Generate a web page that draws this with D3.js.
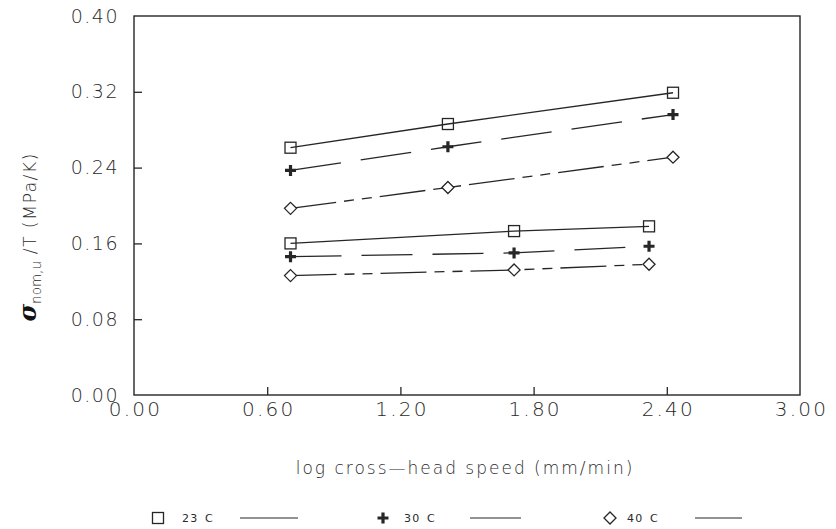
<!DOCTYPE html>
<html><head><meta charset="utf-8">
<script src="https://cdn.jsdelivr.net/npm/d3@7"></script>
<style>
html,body{margin:0;padding:0;background:#fff;}
svg text{font-family:"DejaVu Sans","Open Sans",sans-serif;fill:#2a2a2a;}
</style></head>
<body>
<svg id="c" width="836" height="529"></svg>
<script>
// ---- data ----
const xTicks = [0.00, 0.60, 1.20, 1.80, 2.40, 3.00];
const yTicks = [0.00, 0.08, 0.16, 0.24, 0.32, 0.40];
const xUpper = [0.705, 1.414, 2.428];
const xLower = [0.705, 1.712, 2.320];
const upper23 = [0.261, 0.286, 0.319];
const upper30 = [0.237, 0.262, 0.296];
const upper40 = [0.197, 0.219, 0.251];
const lower23 = [0.160, 0.173, 0.178];
const lower30 = [0.146, 0.150, 0.157];
const lower40 = [0.126, 0.132, 0.138];
const legendLabels = ["23 C", "30 C", "40 C"];

const svg = d3.select("#c");
const L = 134, R = 800, T = 16, B = 395;
const x = d3.scaleLinear().domain([0, 3]).range([L, R]);
const y = d3.scaleLinear().domain([0, 0.4]).range([B, T]);
const ink = "#262626";

// frame
svg.append("rect").attr("x", L).attr("y", T).attr("width", R - L).attr("height", B - T)
  .attr("fill", "none").attr("stroke", ink).attr("stroke-width", 1.4);

// axes
const fmt = d3.format(".2f");
const gy = svg.append("g").attr("transform", `translate(${L},0)`)
  .call(d3.axisLeft(y).tickValues(yTicks).tickFormat(fmt).tickSize(-8).tickPadding(15));
const gx = svg.append("g").attr("transform", `translate(0,${B})`)
  .call(d3.axisBottom(x).tickValues(xTicks).tickFormat(fmt).tickSize(-8).tickPadding(7));
[gy, gx].forEach((g, k) => {
  g.select(".domain").remove();
  g.selectAll(".tick line").attr("stroke", ink).attr("stroke-width", 1.3)
    .filter(d => d === 0 || d === 0.4 || d === 3).remove();
  g.selectAll(".tick text").attr("font-size", k === 0 ? 19 : 20).attr("fill", "#1e1e1e")
    .attr("font-family", "'DejaVu Sans', sans-serif").attr("font-weight", 200)
    .style("letter-spacing", k === 0 ? "1.5px" : "2.2px")
    .attr("dx", k === 0 ? 0 : 1);
});

// axis titles
svg.append("text").attr("x", 465).attr("y", 474).attr("text-anchor", "middle")
  .attr("font-size", 17).attr("font-weight", 200).attr("fill", "#1e1e1e")
  .style("letter-spacing", "2px").text("log cross\u2014head speed (mm/min)");

const yt = svg.append("text").attr("transform", "translate(36,237) rotate(-90)")
  .attr("text-anchor", "middle").attr("font-size", 17.5).attr("font-weight", 200).attr("fill", "#1e1e1e");
yt.append("tspan").attr("font-size", 24).attr("font-weight", "bold").attr("font-style", "italic")
  .attr("font-family", "'DejaVu Serif', serif").attr("fill", "#111").text("\u03c3");
yt.append("tspan").attr("font-size", 13.5).attr("dy", 5).text("nom,u");
yt.append("tspan").attr("dy", -5).style("letter-spacing", "1.3px").text(" /T   (MPa/K)");

// series
const series = [
  {xs: xUpper, ys: upper23, dash: null, mk: "sq"},
  {xs: xUpper, ys: upper30, dash: "51,20", mk: "plus"},
  {xs: xUpper, ys: upper40, dash: "46,8,10,8,10,8", mk: "dia"},
  {xs: xLower, ys: lower23, dash: null, mk: "sq"},
  {xs: xLower, ys: lower30, dash: "51,20", mk: "plus"},
  {xs: xLower, ys: lower40, dash: "46,8,10,8,10,8", mk: "dia"}
];
const line = d3.line().x(d => x(d[0])).y(d => y(d[1]));

function marker(g, kind, px, py) {
  if (kind === "sq") {
    g.append("rect").attr("x", px - 5.5).attr("y", py - 5.5).attr("width", 11).attr("height", 11)
      .attr("fill", "none").attr("stroke", ink).attr("stroke-width", 1.3);
  } else if (kind === "plus") {
    g.append("path").attr("d", `M${px - 5.5},${py}H${px + 5.5}M${px},${py - 5.5}V${py + 5.5}`)
      .attr("stroke", ink).attr("stroke-width", 3.2).attr("fill", "none");
  } else {
    g.append("path").attr("d", `M${px},${py - 6}L${px + 6},${py}L${px},${py + 6}L${px - 6},${py}Z`)
      .attr("fill", "#fff").attr("stroke", ink).attr("stroke-width", 1.3);
  }
}

series.forEach(s => {
  const pts = s.xs.map((v, i) => [v, s.ys[i]]);
  svg.append("path").attr("d", line(pts)).attr("fill", "none").attr("stroke", ink)
    .attr("stroke-width", 1.3).attr("stroke-dasharray", s.dash);
  const g = svg.append("g");
  pts.forEach(p => marker(g, s.mk, x(p[0]), y(p[1])));
});

// legend
const legItems = [
  {mk: "sq", mx: 158, tx: 182, l0: 240, l1: 298},
  {mk: "plus", mx: 383, tx: 404, l0: 470, l1: 521},
  {mk: "dia", mx: 610, tx: 627, l0: 695, l1: 742}
];
const ly = 518;
legItems.forEach((it, i) => {
  const g = svg.append("g");
  marker(g, it.mk, it.mx, ly);
  g.append("text").attr("x", it.tx).attr("y", ly + 4).attr("font-size", 11).attr("fill", "#333")
    .style("letter-spacing", "1.2px").text(legendLabels[i].replace(" ", "\u2002"));
  g.append("line").attr("x1", it.l0).attr("x2", it.l1).attr("y1", ly).attr("y2", ly)
    .attr("stroke", ink).attr("stroke-width", 1.2);
});
</script>
</body></html>
